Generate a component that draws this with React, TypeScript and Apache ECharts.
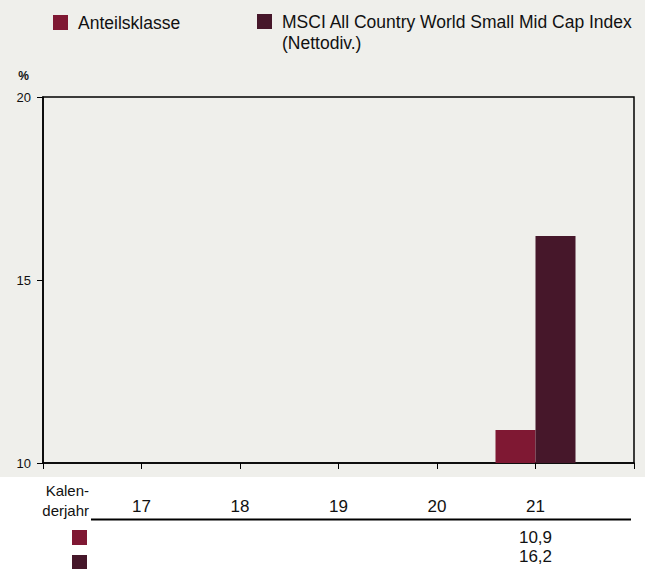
import React, { useEffect, useRef } from 'react';
import * as echarts from 'echarts';

// Data
const categories = ['', '17', '18', '19', '20', '21', ' '];
const anteilsklasse: (number | null)[] = [null, null, null, null, null, 10.9, null];
const msciIndex: (number | null)[] = [null, null, null, null, null, 16.2, null];
const seriesNames = ['Anteilsklasse', 'MSCI All Country World Small Mid Cap Index (Nettodiv.)'];
const yMin = 10;
const yMax = 20;
const yStep = 5;

const colors = ['#7F1833', '#46172A'];
const FONT = "'Liberation Sans', Arial, sans-serif";
const BG = '#EFEFEB';

const fmt = (v: number | null) => (v == null ? '' : v.toFixed(1).replace('.', ','));

export default function App() {
  const ref = useRef<HTMLDivElement>(null);
  useEffect(() => {
    if (!ref.current) return;
    const chart = echarts.init(ref.current, undefined, { renderer: 'svg' });
    chart.setOption({
      animation: false,
      textStyle: { fontFamily: FONT },
      graphic: [
        { type: 'rect', z: -100, silent: true, shape: { x: 0, y: 0, width: 645, height: 477 }, style: { fill: BG } },
        { type: 'line', shape: { x1: 91, y1: 519.5, x2: 631, y2: 519.5 }, style: { stroke: '#000', lineWidth: 2 } },
        {
          type: 'text', x: 89, y: 500,
          style: { text: 'Kalen-\nderjahr', fontFamily: FONT, fontSize: 15, lineHeight: 20, align: 'right', verticalAlign: 'middle', fill: '#111' },
        },
        { type: 'rect', shape: { x: 72, y: 530, width: 15, height: 15 }, style: { fill: colors[0] } },
        { type: 'rect', shape: { x: 72, y: 555, width: 15, height: 14 }, style: { fill: colors[1] } },
      ],
      legend: [
        {
          left: 53, top: 12, padding: 0, itemWidth: 15, itemHeight: 15, icon: 'rect',
          data: [seriesNames[0]],
          textStyle: { fontFamily: FONT, fontSize: 17.5, lineHeight: 21, color: '#111', padding: [0, 0, 0, 5] },
        },
        {
          left: 257, top: -10, padding: 0, itemWidth: 15, itemHeight: 15, icon: 'rect',
          data: [seriesNames[1]],
          formatter: (n: string) => ' \n' + n.replace(' (', '\n('),
          textStyle: { fontFamily: FONT, fontSize: 17.5, lineHeight: 21, color: '#111', padding: [0, 0, 0, 5] },
        },
      ],
      grid: {
        left: 43, right: 11, top: 97, bottom: 106,
        show: true, borderColor: '#000', borderWidth: 1.5, backgroundColor: BG,
      },
      xAxis: [
        {
          type: 'category', data: categories, boundaryGap: false, position: 'bottom',
          axisLine: { lineStyle: { color: '#000', width: 1.5 } },
          axisTick: { show: true, interval: 0, length: 6, lineStyle: { color: '#000' } },
          axisLabel: { interval: 0, margin: 34, fontFamily: FONT, fontSize: 17, lineHeight: 18, color: '#111' },
          splitLine: { show: false },
        },
        {
          type: 'category', data: categories, boundaryGap: false, position: 'bottom', gridIndex: 0,
          axisLine: { show: false }, axisTick: { show: false }, splitLine: { show: false },
          axisLabel: {
            interval: 0, margin: 65, fontFamily: FONT, fontSize: 17, lineHeight: 19, color: '#111',
            formatter: (_v: string, i: number) => {
              const a = fmt(anteilsklasse[i]);
              const b = fmt(msciIndex[i]);
              return a || b ? `${a}\n${b}` : '';
            },
          },
        },
      ],
      yAxis: {
        type: 'value', min: yMin, max: yMax, interval: yStep,
        name: '%', nameLocation: 'end', nameGap: 21,
        nameTextStyle: { fontFamily: FONT, fontSize: 12, fontWeight: 'bold', color: '#111', align: 'right', verticalAlign: 'middle', padding: [0, 14, 0, 0] },
        axisLine: { show: true, lineStyle: { color: '#000', width: 1.5 } },
        axisTick: { show: true, length: 6, lineStyle: { color: '#000' } },
        axisLabel: { margin: 12, fontFamily: FONT, fontSize: 13, color: '#111' },
        splitLine: { show: false },
      },
      series: [
        {
          name: seriesNames[0], type: 'bar', data: anteilsklasse, barWidth: 40, barGap: '0%',
          itemStyle: { color: colors[0] }, xAxisIndex: 0,
        },
        {
          name: seriesNames[1], type: 'bar', data: msciIndex, barWidth: 40, barGap: '0%',
          itemStyle: { color: colors[1] }, xAxisIndex: 0,
        },
      ],
    });
    return () => chart.dispose();
  }, []);
  return (
    <div
      ref={ref}
      style={{ position: 'absolute', left: 0, top: 0, width: 645, height: 569, background: '#fff' }}
    />
  );
}
